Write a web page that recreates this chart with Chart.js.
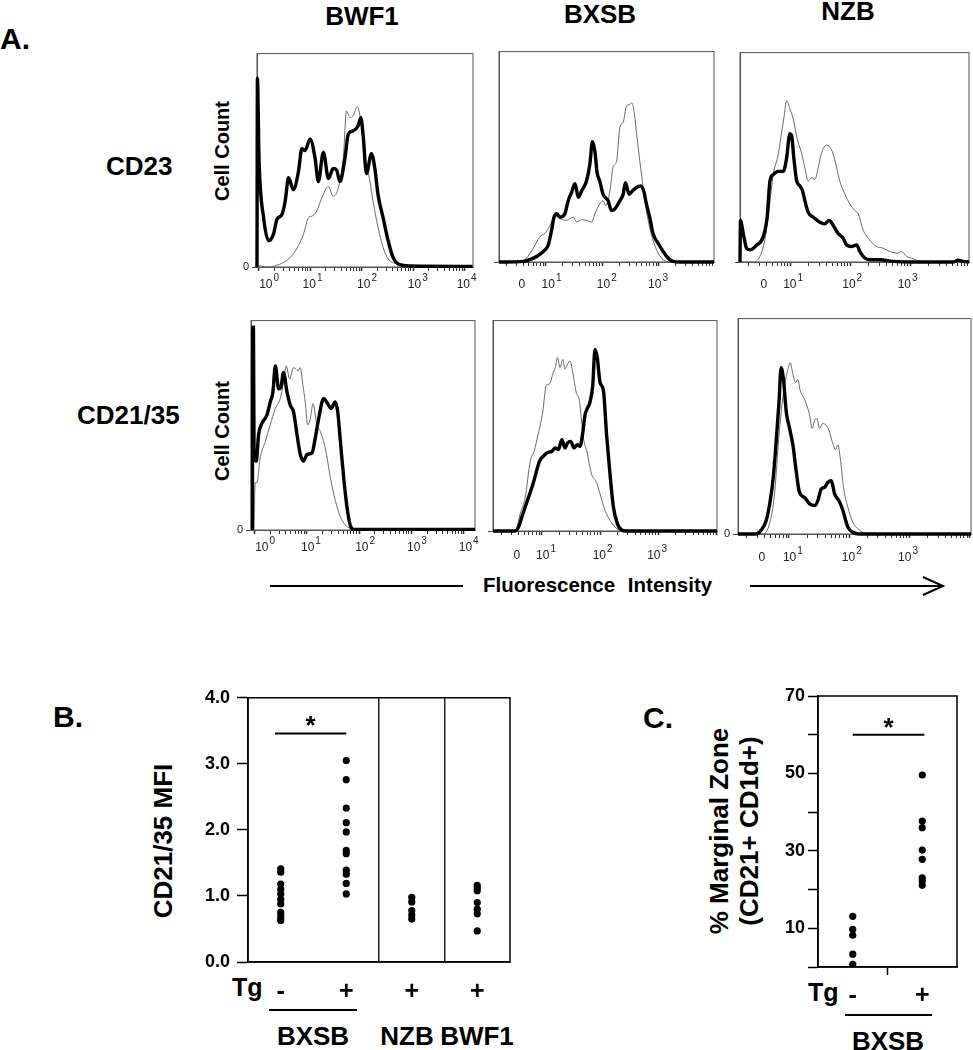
<!DOCTYPE html>
<html><head><meta charset="utf-8">
<script src="https://cdn.jsdelivr.net/npm/chart.js@4.4.0/dist/chart.umd.min.js"></script>
<style>
html,body{margin:0;padding:0;background:#fff;overflow:hidden;}
#root{position:relative;width:973px;height:1050px;font-family:"Liberation Sans",Arial,sans-serif;overflow:hidden;}
.t{position:absolute;font-weight:bold;line-height:1;white-space:nowrap;color:#000;}
.c{transform:translateX(-50%);}
.rot{position:absolute;transform:translate(-50%,-50%) rotate(-90deg);font-weight:bold;white-space:nowrap;line-height:1;color:#000;text-align:center;}
.hl{position:absolute;background:#000;}
canvas{position:absolute;}
</style></head><body><div id="root">
<div class="t" style="left:0px;top:24px;font-size:30px">A.</div>
<div class="t c" style="left:362px;top:3px;font-size:26px">BWF1</div>
<div class="t c" style="left:600px;top:1px;font-size:26px">BXSB</div>
<div class="t c" style="left:848px;top:-2px;font-size:26px">NZB</div>
<div class="t" style="left:106px;top:153px;font-size:26px">CD23</div>
<div class="t" style="left:77px;top:402px;font-size:26px">CD21/35</div>
<div class="rot" style="left:222px;top:151px;font-size:20px">Cell Count</div>
<div class="rot" style="left:222px;top:431px;font-size:20px">Cell Count</div>
<div class="hl" style="left:270px;top:585px;width:193px;height:2px"></div>
<div class="t" style="left:483px;top:575px;font-size:20.5px;word-spacing:7px">Fluorescence Intensity</div>
<svg style="position:absolute;left:745px;top:574px" width="205" height="26"><line x1="5" y1="12" x2="197" y2="12" stroke="#000" stroke-width="2"/><polyline points="178,3 198,12 178,21" fill="none" stroke="#000" stroke-width="2"/></svg>
<div class="t" style="left:53px;top:702px;font-size:30px">B.</div>
<div class="t" style="left:643px;top:703px;font-size:30px">C.</div>
<div class="rot" style="left:163px;top:841px;font-size:26px">CD21/35 MFI</div>
<div class="rot" style="left:734px;top:831px;font-size:26px;line-height:30px">% Marginal Zone<br>(CD21+ CD1d+)</div>
<div class="t" style="left:232px;top:975px;font-size:25px">Tg</div>
<div class="t" style="left:808px;top:980px;font-size:25px">Tg</div>
<div class="hl" style="left:269px;top:1009px;width:88px;height:2px"></div>
<div class="hl" style="left:845px;top:1014px;width:87px;height:2px"></div>
<div class="t c" style="left:313px;top:1023px;font-size:26px">BXSB</div>
<div class="t c" style="left:407px;top:1023px;font-size:26px">NZB</div>
<div class="t c" style="left:477px;top:1023px;font-size:26px">BWF1</div>
<div class="t c" style="left:888px;top:1028px;font-size:26px">BXSB</div>
</div>
<script>
// ---------------- DATA ----------------
// Panel A histograms: x = channel (256 channels per decade), y = % of panel height
const cd23_BWF1_thick_ch = [-8,-6,2,25,50,74,91,116,132,149,173,198,215,231,256,281,297,322,347,371,388,404,429,446,470,495,508,520,536,561,578,594,619,644,668,701,751,1064];
const cd23_BWF1_thick_ct = [0,88.5,50.8,23,12.3,15.4,22.3,24.6,30.8,41.8,36.2,44.6,55.4,54.6,60,50.8,40,53.8,41.5,46.2,45.4,40,50.8,62.3,63.8,66.2,70,61.5,43.8,53.1,46.2,33.8,23.1,12.3,4.6,1.1,0.5,0.3];
const cd23_BWF1_thin_ch = [-8,41,91,140,173,198,223,248,264,289,314,347,371,396,421,437,454,470,490,507,528,545,569,594,619,644,685,734,1064];
const cd23_BWF1_thin_ct = [0.8,0,0.8,3.1,6.2,10,15.4,23.1,23.8,26.2,32.3,37.7,33.1,36.9,50.8,73.1,70,70.8,75.1,69.2,50.8,44.6,30.8,18.5,9.2,3.8,1.5,0.5,0.3];

const cd23_BXSB_thick_ch = [45,155,185,215,245,268,283,294,306,321,343,358,373,389,404,419,441,456,468,479,489,501,516,539,554,569,592,607,617,634,649,667,685,700,712,727,742,765,788,810,833,863,1018];
const cd23_BXSB_thick_ct = [0,0.3,1.1,2.6,5,8.1,15.1,21.3,22.9,21.3,22.9,29.1,33,37.2,30.7,33.8,38.5,46.3,57.2,52.5,42.4,38.5,32.2,29.1,24.5,25.2,29.1,32.2,37.7,32.2,33.8,35.4,36.1,33.8,27.6,21.3,13.6,8.9,5,1.9,0.3,0,0];
const cd23_BXSB_thin_ch = [45,140,170,200,230,253,276,298,321,351,381,396,419,441,464,479,501,516,528,547,562,577,592,607,622,637,645,655,667,679,694,705,720,742,765,788,818,1018];
const cd23_BXSB_thin_ct = [0,0,1.9,6.5,12,13.6,17.4,22.1,20.6,19.8,21.3,19,20.1,19.8,19,22.9,27.6,29.1,26.8,33.8,45.4,47.7,64,66.4,74.1,74.9,75.7,72.6,61.7,50.8,38.3,29.1,19.8,10.4,4.2,1.1,0,0];

const cd23_NZB_thick_ch = [40,42,54,68,83,111,139,156,168,182,203,225,239,253,260,270,282,296,307,317,331,353,381,402,421,438,459,481,495,516,538,552,573,594,637,694,779,950,971,992,1018];
const cd23_NZB_thick_ct = [0,19.9,13.6,6.6,5.8,8.1,12,21.4,38.7,41.8,43.3,43.3,49.6,61.3,60.6,49.6,38.7,36.3,34,29.3,23.8,21.4,19,18.3,19.9,17.5,13.6,11.3,8.1,7.4,8.1,5,1.9,1.1,1.1,0.3,0,0,0.8,0.3,0];
const cd23_NZB_thin_ch = [40,97,125,146,165,182,203,218,228,239,253,267,284,303,317,331,346,360,374,388,410,431,445,466,488,509,530,545,566,594,623,651,680,715,730,751,779,808,850,1018];
const cd23_NZB_thin_ct = [0,0,2.7,10.5,26.1,41.8,51.2,62.1,69.2,77,73.1,68.4,59,52,45,38.7,40.2,39.4,45,52,55.9,53.5,48.8,38.7,32.4,27.7,24.6,23,15.2,10.5,7.4,6.6,5,4.2,5,2.7,1.6,0.3,0,0];

const cd21_BWF1_thick_ch = [-9,-8,-4,-1,10,21,37,62,78,91,103,119,130,143,160,176,192,209,225,241,258,282,298,315,339,359,375,396,408,421,437,453,469,486,1079];
const cd21_BWF1_thick_ct = [0,96.9,96.9,34,32.9,45.5,50.9,54.9,61.1,65.8,78.4,67.4,68.2,75.2,65.8,59.6,56.4,45.5,36.1,32.9,36.1,36.8,43.9,53.3,62.7,60.3,58,61.1,56.4,42.3,25.1,11,2.4,0.3,0.3];
const cd21_BWF1_thin_ch = [-2,5,13,29,54,78,103,127,143,156,173,192,214,225,238,249,261,274,287,306,323,347,372,396,421,445,469,502,1079];
const cd21_BWF1_thin_ct = [0,22.7,22.7,34.5,42.3,50.2,58,62.7,70.5,78.4,72.1,77.6,76,77.6,69,61.1,50.2,53.3,60.3,50.2,47,39.2,25.1,14.1,6.3,2.4,0.8,0,0];

const cd21_BXSB_thick_ch = [41,139,154,168,190,219,246,263,278,300,315,329,344,358,369,383,398,413,424,436,446,456,468,480,490,500,512,527,541,556,571,588,607,629,1027];
const cd21_BXSB_thick_ct = [0,0,2,6.7,13.7,23.1,33.2,35.6,37.1,37.9,39.5,38.7,43.4,39.5,41.8,42.6,39.5,41,40.2,46.5,55.1,58.2,61.3,69.1,86.3,82.4,70.7,66.8,45.7,27,11.4,3.6,0.5,0,0];
const cd21_BXSB_thin_ch = [41,139,161,183,205,222,241,260,275,290,304,315,325,336,348,358,369,380,392,407,421,439,454,475,497,512,534,556,585,614,1027];
const cd21_BXSB_thin_ct = [0,0,8.3,16.1,33.2,37.9,46.5,56.6,69.1,69.9,74.6,77.7,82.4,77.7,81.6,76.9,79.3,80.8,75.4,66,62.1,44.1,37.9,27,23.1,17.6,9.8,5.1,1.2,0,0];

const cd21_NZB_thick_ch = [40,117,139,160,177,191,202,214,223,233,245,259,273,287,301,322,344,365,379,393,407,421,436,450,468,485,506,527,556,1029];
const cd21_NZB_thick_ct = [0,0,1.8,6.4,15.5,27.7,42.9,61.2,77.2,71.8,56.6,49,41.4,29.2,19.3,17,14,13.2,15.5,20.9,21.6,23.9,24.7,18.6,15.5,11,3.3,0.8,0,0];
const cd21_NZB_thin_ch = [40,146,174,195,214,228,242,252,262,273,284,294,304,315,330,344,355,365,375,386,400,414,426,440,454,464,474,488,506,527,556,584,1029];
const cd21_NZB_thin_ct = [0,0,4.9,18.6,46,61.2,71.8,76.4,79.5,74.1,70.3,71.8,66.5,64.2,60.4,55.1,49,52.8,53.6,49,51.3,50.5,48.2,42.9,39.1,41.4,35.3,21.6,12.5,5.6,1.8,0.3,0];

// tick label channels and texts
const logLabelBase = ['10','10','10','10','10'];
const logLabelSup = ['0','1','2','3','4'];
const logicleLabelBase = ['0','10','10','10'];
const logicleLabelSup = ['','1','2','3'];
const cd23_BWF1_labelCh = [36,252,523,775,1018];
const cd23_BXSB_labelCh = [148,268,518,750];
const cd23_NZB_labelCh = [142,253,505,742];
const cd21_BWF1_labelCh = [37,261,526,779,1032];
const cd21_BXSB_labelCh = [146,260,509,749];
const cd21_NZB_labelCh = [141,259,509,748];

// Panel B: CD21/35 MFI
const bCategories = ['-','+','+','+'];
const bxsbNeg = [1.41,1.36,1.18,1.10,1.03,0.95,0.88,0.75,0.70,0.65,0.63];
const bxsbPos = [3.05,2.76,2.33,2.11,1.97,1.69,1.64,1.39,1.33,1.19,1.03];
const nzbPos = [0.98,0.91,0.78,0.71,0.65];
const bwf1Pos = [1.16,1.12,1.08,0.90,0.80,0.73,0.47];
const bYTicks = [0,1,2,3,4];
const bSig = [-0.09, 1.0, 3.46];   // from, to, level

// Panel C: % marginal zone
const cCategories = ['-','+'];
const cNeg = [13.1,9.7,8.2,3.3,0.7];
const cPos = [49.6,37.7,36.0,30.2,27.8,23.0,22.2,21.1];
const cSig = [0.0, 1.03, 60];

// ---------------- DRAWING ----------------
const FONT = '"Liberation Sans", Arial, sans-serif';
const root = document.getElementById('root');
function makeCanvas(left, top, w, h) {
  const c = document.createElement('canvas');
  c.width = w; c.height = h;
  c.style.left = left + 'px'; c.style.top = top + 'px';
  c.style.width = w + 'px'; c.style.height = h + 'px';
  root.appendChild(c);
  return c;
}
function toXY(xs, ys) { return xs.map((x, i) => ({x: x, y: ys[i]})); }
function logTicks(min, max) {
  const out = [];
  for (let d = 0; d <= 4; d++) for (let k = 1; k <= 9; k++) {
    const v = 256 * (d + Math.log10(k));
    if (v >= min && v <= max) out.push(v);
  }
  return out;
}
const framePlugin = {
  id: 'frame',
  beforeDatasetsDraw(chart, args, opts) {
    const a = chart.chartArea, c = chart.ctx;
    c.save(); c.strokeStyle = opts.color || '#000'; c.lineWidth = opts.width || 1;
    c.strokeRect(a.left, a.top, a.right - a.left, a.bottom - a.top);
    c.restore();
  }
};
const labelPlugin = {
  id: 'logLabels',
  afterDraw(chart, args, opts) {
    if (!opts.ch) return;
    const s = chart.scales.x, c = chart.ctx, y = chart.chartArea.bottom + opts.dy;
    c.save(); c.fillStyle = '#222'; c.textBaseline = 'middle';
    opts.ch.forEach((v, i) => {
      const x = s.getPixelForValue(v);
      c.font = '12px ' + FONT; c.textAlign = 'center';
      c.fillText(opts.base[i], x, y);
      if (opts.sup[i]) {
        const bw = c.measureText(opts.base[i]).width;
        c.font = '10px ' + FONT; c.textAlign = 'left';
        c.fillText(opts.sup[i], x + bw / 2 + 1, y - 7);
      }
    });
    c.restore();
  }
};
const starPlugin = {
  id: 'star',
  afterDatasetsDraw(chart, args, opts) {
    if (!opts.sig) return;
    const xs = chart.scales.x, ys = chart.scales.y, c = chart.ctx;
    const x = xs.getPixelForValue((opts.sig[0] + opts.sig[1]) / 2), y = ys.getPixelForValue(opts.sig[2]);
    c.save(); c.fillStyle = '#000'; c.font = 'bold 26px ' + FONT; c.textAlign = 'center'; c.textBaseline = 'alphabetic';
    c.fillText('*', x, y + 1); c.restore();
  }
};

const PT = 6, PR = 4, YW = 30, XH = 40;
function histogram(box, min, max, thick, thin, labels, dy, yZero) {
  const [l, t, r, b] = box, w = r - l, h = b - t;
  const cv = makeCanvas(l - YW, t - PT, YW + w + PR, PT + h + XH);
  new Chart(cv, {
    type: 'line',
    data: { datasets: [
      { data: toXY(thick[0], thick[1]), borderColor: '#000', borderWidth: 3.4, pointRadius: 0, cubicInterpolationMode: 'monotone', fill: false, clip: 3 },
      { data: toXY(thin[0], thin[1]), borderColor: '#6a6a6a', borderWidth: 1, pointRadius: 0, cubicInterpolationMode: 'monotone', fill: false, clip: 2 }
    ]},
    options: {
      responsive: false, animation: false, devicePixelRatio: 1, parsing: false,
      layout: { padding: { top: PT, right: PR, left: 0, bottom: 0 } },
      plugins: { legend: { display: false }, tooltip: { enabled: false },
        frame: { color: '#555', width: 1 },
        logLabels: { ch: labels[0], base: labels[1], sup: labels[2], dy: dy } },
      scales: {
        x: { type: 'linear', min: min, max: max,
          afterFit: s => { s.height = XH; },
          afterBuildTicks: s => { s.ticks = logTicks(min, max).map(v => ({ value: v })); },
          ticks: { display: false },
          grid: { drawOnChartArea: false, drawTicks: true, tickLength: 4, tickColor: '#333',
            tickWidth: ctx => (ctx.tick && Math.abs(ctx.tick.value % 256) < 0.01) ? 1.6 : 1 },
          border: { color: '#555', width: 1 } },
        y: { type: 'linear', min: 0, max: 100,
          afterFit: s => { s.width = YW; },
          afterBuildTicks: s => { s.ticks = [{ value: 0 }]; },
          ticks: { callback: () => yZero ? '0' : '', font: { size: 11, family: FONT }, color: '#222', padding: 3 },
          grid: { drawOnChartArea: false, tickLength: 5, tickColor: '#444' },
          border: { color: '#555', width: 1 } }
      }
    },
    plugins: [framePlugin, labelPlugin]
  });
}

histogram([257, 50, 473, 267], -8, 1066, [cd23_BWF1_thick_ch, cd23_BWF1_thick_ct], [cd23_BWF1_thin_ch, cd23_BWF1_thin_ct], [cd23_BWF1_labelCh, logLabelBase, logLabelSup], 18, true);
histogram([499, 48, 714, 262], 45, 1018, [cd23_BXSB_thick_ch, cd23_BXSB_thick_ct], [cd23_BXSB_thin_ch, cd23_BXSB_thin_ct], [cd23_BXSB_labelCh, logicleLabelBase, logicleLabelSup], 23, false);
histogram([740, 49, 969, 262], 40, 1018, [cd23_NZB_thick_ch, cd23_NZB_thick_ct], [cd23_NZB_thin_ch, cd23_NZB_thin_ct], [cd23_NZB_labelCh, logicleLabelBase, logicleLabelSup], 23, false);
histogram([251, 317, 475, 530], -16, 1079, [cd21_BWF1_thick_ch, cd21_BWF1_thick_ct], [cd21_BWF1_thin_ch, cd21_BWF1_thin_ct], [cd21_BWF1_labelCh, logLabelBase, logLabelSup], 18, true);
histogram([493, 317, 717, 531], 41, 1027, [cd21_BXSB_thick_ch, cd21_BXSB_thick_ct], [cd21_BXSB_thin_ch, cd21_BXSB_thin_ct], [cd21_BXSB_labelCh, logicleLabelBase, logicleLabelSup], 25, false);
histogram([738, 315, 971, 534], 40, 1029, [cd21_NZB_thick_ch, cd21_NZB_thick_ct], [cd21_NZB_thin_ch, cd21_NZB_thin_ct], [cd21_NZB_labelCh, logicleLabelBase, logicleLabelSup], 24, true);

// Panel B
(function () {
  const l = 248, t = 696, r = 510, b = 962, TP = 16, YWB = 68;
  const cv = makeCanvas(l - YWB, t - TP, YWB + (r - l) + 6, TP + (b - t) + 44);
  const pts = [];
  [bxsbNeg, bxsbPos, nzbPos, bwf1Pos].forEach((arr, i) => arr.forEach(v => pts.push({ x: i, y: v })));
  new Chart(cv, {
    type: 'scatter',
    data: { datasets: [
      { data: pts, pointRadius: 3.6, pointBackgroundColor: '#000', pointBorderWidth: 0, clip: false },
      { data: [{ x: bSig[0], y: bSig[2] }, { x: bSig[1], y: bSig[2] }], showLine: true, borderColor: '#000', borderWidth: 2, pointRadius: 0 }
    ]},
    options: {
      responsive: false, animation: false, devicePixelRatio: 1,
      layout: { padding: { top: TP, right: 6, left: 0, bottom: 0 } },
      plugins: { legend: { display: false }, tooltip: { enabled: false }, frame: { color: '#000', width: 1.5 }, star: { sig: bSig } },
      scales: {
        x: { type: 'linear', min: -0.5, max: 3.5,
          afterFit: s => { s.height = 44; },
          afterBuildTicks: s => { s.ticks = [0, 1, 1.5, 2, 2.5, 3].map(v => ({ value: v })); },
          ticks: { autoSkip: false, maxRotation: 0, padding: 15, color: '#000', font: { size: 25, weight: 'bold', family: FONT },
            callback: v => Number.isInteger(v) ? bCategories[v] : '' },
          grid: { drawTicks: false, lineWidth: 1.5, color: ctx => (ctx.tick && !Number.isInteger(ctx.tick.value)) ? '#222' : 'rgba(0,0,0,0)' },
          border: { color: '#000', width: 1.5 } },
        y: { type: 'linear', min: 0, max: 4,
          afterFit: s => { s.width = YWB; },
          afterBuildTicks: s => { s.ticks = bYTicks.map(v => ({ value: v })); },
          ticks: { padding: 7, color: '#000', font: { size: 18, weight: 'bold', family: FONT }, callback: v => v.toFixed(1) },
          grid: { drawOnChartArea: false, tickLength: 11, tickColor: '#000', tickWidth: 1.5 },
          border: { color: '#000', width: 1.5 } }
      }
    },
    plugins: [framePlugin, starPlugin]
  });
})();

// Panel C
(function () {
  const l = 818, t = 696, r = 957, b = 967, TP = 16, YWC = 58;
  const cv = makeCanvas(l - YWC, t - TP, YWC + (r - l) + 6, TP + (b - t) + 44);
  const pts = [];
  [cNeg, cPos].forEach((arr, i) => arr.forEach(v => pts.push({ x: i, y: v })));
  new Chart(cv, {
    type: 'scatter',
    data: { datasets: [
      { data: pts, pointRadius: 3.6, pointBackgroundColor: '#000', pointBorderWidth: 0 },
      { data: [{ x: cSig[0], y: cSig[2] }, { x: cSig[1], y: cSig[2] }], showLine: true, borderColor: '#000', borderWidth: 2, pointRadius: 0 }
    ]},
    options: {
      responsive: false, animation: false, devicePixelRatio: 1,
      layout: { padding: { top: TP, right: 6, left: 0, bottom: 0 } },
      plugins: { legend: { display: false }, tooltip: { enabled: false }, frame: { color: '#000', width: 1.5 }, star: { sig: cSig } },
      scales: {
        x: { type: 'linear', min: -0.5, max: 1.5,
          afterFit: s => { s.height = 44; },
          afterBuildTicks: s => { s.ticks = [0, 0.5, 1].map(v => ({ value: v })); },
          ticks: { autoSkip: false, maxRotation: 0, padding: 6, color: '#000', font: { size: 25, weight: 'bold', family: FONT },
            callback: v => Number.isInteger(v) ? cCategories[v] : '' },
          grid: { drawOnChartArea: false, drawTicks: true, tickLength: 8, tickWidth: 1.5,
            tickColor: ctx => (ctx.tick && !Number.isInteger(ctx.tick.value)) ? '#000' : 'rgba(0,0,0,0)' },
          border: { color: '#000', width: 1.5 } },
        y: { type: 'linear', min: 0, max: 70,
          afterFit: s => { s.width = YWC; },
          ticks: { stepSize: 10, padding: 3, color: '#000', font: { size: 18, weight: 'bold', family: FONT },
            callback: v => (Math.round(v / 10) % 2 === 1) ? String(v) : '' },
          grid: { drawOnChartArea: false, tickLength: 10, tickColor: '#000', tickWidth: 1.5 },
          border: { color: '#000', width: 1.5 } }
      }
    },
    plugins: [framePlugin, starPlugin]
  });
})();
</script>
</body></html>
